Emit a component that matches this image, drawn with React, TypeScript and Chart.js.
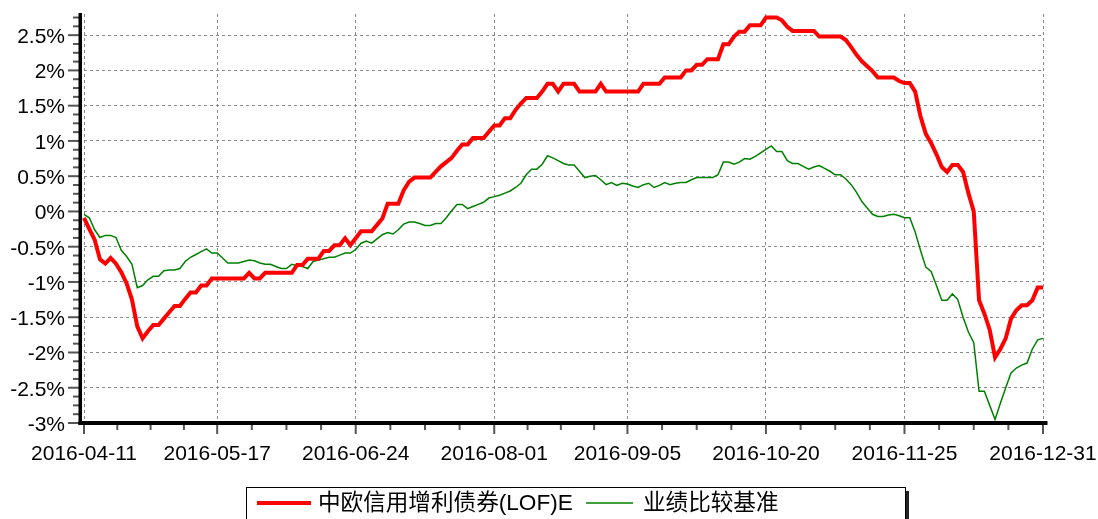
import React, { useEffect, useRef } from 'react';
import { Chart, registerables } from 'chart.js';

Chart.register(...registerables);

const FUND_NAME = '中欧信用增利债券(LOF)E';
const BENCH_NAME = '业绩比较基准';

const TICK_INDEX = [0, 25, 51, 77, 102, 128, 154, 180];
const TICK_LABELS = ['2016-04-11', '2016-05-17', '2016-06-24', '2016-08-01', '2016-09-05', '2016-10-20', '2016-11-25', '2016-12-31'];
const Y_TICKS = [-3, -2.5, -2, -1.5, -1, -0.5, 0, 0.5, 1, 1.5, 2, 2.5];

const fundValues = [
  -0.09, -0.25, -0.40, -0.68, -0.74, -0.66, -0.74, -0.86, -1.02, -1.25,
  -1.63, -1.80, -1.70, -1.61, -1.61, -1.52, -1.43, -1.34, -1.34, -1.24,
  -1.15, -1.15, -1.05, -1.05, -0.95, -0.95, -0.95, -0.95, -0.95, -0.95,
  -0.95, -0.87, -0.95, -0.95, -0.87, -0.87, -0.87, -0.87, -0.87, -0.87,
  -0.76, -0.76, -0.67, -0.67, -0.67, -0.56, -0.56, -0.48, -0.48, -0.38,
  -0.48, -0.38, -0.28, -0.28, -0.28, -0.19, -0.10, 0.11, 0.11, 0.11,
  0.30, 0.42, 0.48, 0.48, 0.48, 0.48, 0.56, 0.64, 0.70, 0.76,
  0.86, 0.95, 0.95, 1.04, 1.04, 1.04, 1.13, 1.22, 1.22, 1.32,
  1.32, 1.44, 1.53, 1.61, 1.61, 1.61, 1.70, 1.81, 1.81, 1.70,
  1.81, 1.81, 1.81, 1.70, 1.70, 1.70, 1.70, 1.81, 1.70, 1.70,
  1.70, 1.70, 1.70, 1.70, 1.70, 1.81, 1.81, 1.81, 1.81, 1.90,
  1.90, 1.90, 1.90, 2.00, 2.00, 2.08, 2.08, 2.16, 2.16, 2.16,
  2.37, 2.37, 2.48, 2.55, 2.55, 2.64, 2.64, 2.64, 2.75, 2.75,
  2.75, 2.71, 2.62, 2.56, 2.56, 2.56, 2.56, 2.56, 2.48, 2.48,
  2.48, 2.48, 2.48, 2.43, 2.33, 2.22, 2.13, 2.06, 1.99, 1.90,
  1.90, 1.90, 1.90, 1.85, 1.82, 1.82, 1.70, 1.35, 1.10, 0.97,
  0.81, 0.63, 0.56, 0.66, 0.66, 0.56, 0.26, 0.00, -1.26, -1.45,
  -1.68, -2.07, -1.95, -1.80, -1.52, -1.40, -1.33, -1.33, -1.26, -1.08,
  -1.08,
];

const benchValues = [
  -0.04, -0.09, -0.26, -0.37, -0.34, -0.34, -0.37, -0.55, -0.64, -0.75,
  -1.08, -1.05, -0.97, -0.92, -0.92, -0.84, -0.83, -0.83, -0.81, -0.71,
  -0.65, -0.61, -0.57, -0.53, -0.59, -0.59, -0.66, -0.73, -0.73, -0.73,
  -0.71, -0.69, -0.70, -0.73, -0.75, -0.75, -0.78, -0.81, -0.81, -0.75,
  -0.77, -0.78, -0.81, -0.71, -0.69, -0.67, -0.65, -0.65, -0.62, -0.59,
  -0.59, -0.54, -0.45, -0.42, -0.45, -0.39, -0.33, -0.30, -0.32, -0.26,
  -0.18, -0.15, -0.15, -0.17, -0.20, -0.20, -0.17, -0.17, -0.09, 0.01,
  0.10, 0.10, 0.04, 0.07, 0.10, 0.13, 0.19, 0.21, 0.23, 0.26,
  0.29, 0.34, 0.40, 0.52, 0.60, 0.60, 0.67, 0.79, 0.76, 0.72,
  0.68, 0.66, 0.66, 0.57, 0.48, 0.50, 0.51, 0.45, 0.38, 0.41,
  0.37, 0.40, 0.39, 0.36, 0.34, 0.38, 0.40, 0.34, 0.37, 0.41,
  0.38, 0.40, 0.41, 0.41, 0.45, 0.48, 0.48, 0.48, 0.48, 0.52,
  0.70, 0.70, 0.67, 0.70, 0.75, 0.74, 0.78, 0.83, 0.88, 0.93,
  0.85, 0.85, 0.72, 0.68, 0.68, 0.64, 0.60, 0.63, 0.65, 0.61,
  0.57, 0.52, 0.52, 0.46, 0.38, 0.27, 0.14, 0.05, -0.04, -0.07,
  -0.07, -0.05, -0.04, -0.06, -0.09, -0.09, -0.29, -0.55, -0.79, -0.85,
  -1.05, -1.26, -1.26, -1.17, -1.25, -1.50, -1.71, -1.86, -2.55, -2.55,
  -2.75, -2.95, -2.72, -2.50, -2.29, -2.22, -2.18, -2.15, -1.95, -1.82,
  -1.80,
];

const FONT = '"Liberation Sans", Arial, "Noto Sans CJK SC", sans-serif';

const axisPlugin = {
  id: 'axisDeco',
  afterDraw(chart: any) {
    const { ctx, chartArea: a, scales } = chart;
    const x = scales.x;
    const y = scales.y;
    ctx.save();
    ctx.setLineDash([]);
    ctx.strokeStyle = '#555';
    ctx.lineWidth = 2;
    // y ticks (major every 0.5, minor every 0.125)
    for (let k = 0; k * 0.125 <= 5.8 + 1e-9; k++) {
      const v = -3 + k * 0.125;
      const py = y.getPixelForValue(v);
      const major = k % 4 === 0;
      ctx.beginPath();
      ctx.moveTo(major ? a.left - 16 : a.left - 11, py);
      ctx.lineTo(a.left - 4, py);
      ctx.stroke();
    }
    // x ticks
    for (let k = 0; k < TICK_INDEX.length; k++) {
      const px = x.getPixelForValue(TICK_INDEX[k]);
      ctx.beginPath();
      ctx.moveTo(px, a.bottom + 2);
      ctx.lineTo(px, a.bottom + 11);
      ctx.stroke();
      if (k < TICK_INDEX.length - 1) {
        const nx = x.getPixelForValue(TICK_INDEX[k + 1]);
        for (let j = 1; j < 4; j++) {
          const mx = px + ((nx - px) * j) / 4;
          ctx.beginPath();
          ctx.moveTo(mx, a.bottom + 2);
          ctx.lineTo(mx, a.bottom + 7);
          ctx.stroke();
        }
      }
    }
    // axis lines
    ctx.fillStyle = '#000';
    ctx.fillRect(a.left - 5.5, a.top - 1, 3.5, a.bottom - a.top + 3);
    ctx.fillRect(a.left - 5.5, a.bottom - 2, a.right - a.left + 10, 4);
    ctx.restore();
  },
};

const legendPlugin = {
  id: 'boxLegend',
  afterDraw(chart: any) {
    const { ctx } = chart;
    ctx.save();
    ctx.setLineDash([]);
    ctx.fillStyle = '#fff';
    ctx.fillRect(247, 488, 659, 40);
    ctx.strokeStyle = '#000';
    ctx.lineWidth = 1;
    ctx.strokeRect(246.5, 487.5, 659, 40);
    ctx.fillStyle = '#222';
    ctx.fillRect(906, 491, 3, 30);

    ctx.lineWidth = 4;
    ctx.strokeStyle = '#ff0000';
    ctx.beginPath();
    ctx.moveTo(257, 503);
    ctx.lineTo(311, 503);
    ctx.stroke();

    ctx.lineWidth = 1.5;
    ctx.strokeStyle = '#008000';
    ctx.beginPath();
    ctx.moveTo(586, 503);
    ctx.lineTo(633, 503);
    ctx.stroke();

    ctx.fillStyle = '#000';
    ctx.font = '22.6px ' + FONT;
    ctx.textBaseline = 'middle';
    ctx.textAlign = 'left';
    ctx.fillText(FUND_NAME, 318, 504);
    ctx.fillText(BENCH_NAME, 643, 504);
    ctx.restore();
  },
};

export default function App() {
  const ref = useRef<HTMLCanvasElement | null>(null);

  useEffect(() => {
    const canvas = ref.current;
    if (!canvas) return;
    const labels = fundValues.map((_, i) => {
      const k = TICK_INDEX.indexOf(i);
      return k >= 0 ? TICK_LABELS[k] : '';
    });
    const chart = new Chart(canvas, {
      type: 'line',
      data: {
        labels,
        datasets: [
          {
            label: FUND_NAME,
            data: fundValues,
            borderColor: '#ff0000',
            backgroundColor: '#ff0000',
            borderWidth: 4,
            pointRadius: 0,
            tension: 0,
            fill: false,
          },
          {
            label: BENCH_NAME,
            data: benchValues,
            borderColor: '#008000',
            backgroundColor: '#008000',
            borderWidth: 1.5,
            pointRadius: 0,
            tension: 0,
            fill: false,
          },
        ],
      },
      options: {
        animation: false,
        responsive: false,
        maintainAspectRatio: false,
        layout: { padding: { top: 14, right: 55, bottom: 0, left: 0 } },
        plugins: { legend: { display: false }, tooltip: { enabled: false } },
        scales: {
          x: {
            type: 'category',
            offset: false,
            grid: { color: '#8a8a8a', lineWidth: 1, drawTicks: true, tickLength: 19, tickColor: 'rgba(0,0,0,0)' },
            border: { display: false, dash: [3, 3] },
            afterBuildTicks: (s: any) => {
              s.ticks = TICK_INDEX.map((v) => ({ value: v }));
            },
            afterFit: (s: any) => {
              s.height = 96;
            },
            ticks: {
              autoSkip: false,
              maxRotation: 0,
              minRotation: 0,
              padding: 0,
              color: '#000',
              font: { family: FONT, size: 21 },
              callback: function (this: any, v: any) {
                return this.getLabelForValue(v);
              },
            },
          },
          y: {
            min: -3,
            max: 2.8,
            grid: { color: '#8a8a8a', lineWidth: 1, drawTicks: true, tickLength: 19, tickColor: 'rgba(0,0,0,0)' },
            border: { display: false, dash: [3, 3] },
            afterBuildTicks: (s: any) => {
              s.ticks = Y_TICKS.map((v) => ({ value: v }));
            },
            afterFit: (s: any) => {
              s.width = 84;
            },
            ticks: {
              padding: 0,
              labelOffset: 2,
              color: '#000',
              font: { family: FONT, size: 21 },
              callback: (v: any) => `${v}%`,
            },
          },
        },
      },
      plugins: [axisPlugin, legendPlugin],
    });
    return () => chart.destroy();
  }, []);

  return (
    <div style={{ position: 'fixed', left: 0, top: 0, width: 1098, height: 519, background: '#fff' }}>
      <canvas ref={ref} width={1098} height={519} style={{ display: 'block', width: 1098, height: 519 }} />
    </div>
  );
}
